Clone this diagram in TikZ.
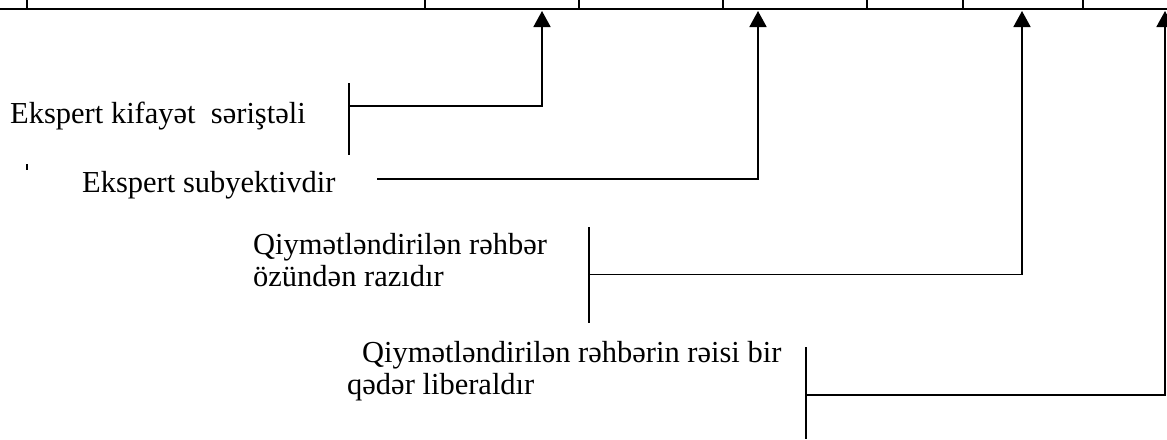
\documentclass[tikz,border=0pt]{standalone}
\usepackage{fontspec}
\setmainfont{Liberation Serif}
\usetikzlibrary{arrows.meta}

\begin{document}
\begin{tikzpicture}[
  x=1pt,y=-1pt,
  txt/.style={font=\fontsize{30.5}{32}\selectfont,inner sep=0pt,anchor=base west,align=left},
  bar/.style={line width=2.2pt},
  arr/.style={-{Triangle[width=17pt,length=16pt]},line width=1.8pt}
]
\useasboundingbox (0,0) rectangle (1167,439);
% bottom edge of the table
\draw[line width=2.5pt] (0,9) -- (1167,9);
\foreach \x in {27,425,579,723,867,963,1083}
  \draw[line width=1.6pt] (\x,0) -- (\x,9);
% arrow tips under the table
\coordinate (t1) at (542,11);
\coordinate (t2) at (758,11);
\coordinate (t3) at (1022,11);
\coordinate (t4) at (1165,11);
% labels (base = last line)
\node[txt] (competent) at (10,123) {Ekspert kifayət~ səriştəli};
\node[txt] (subjective) at (82,192) {Ekspert subyektivdir};
\node[txt] (satisfied) at (253,286) {Qiymətləndirilən rəhbər\\özündən razıdır};
\node[txt] (liberal) at (347,394) {\hspace*{15pt}Qiymətləndirilən rəhbərin rəisi bir\\qədər liberaldır};
\draw[line width=2pt] (27,164) -- (27,170);
% brackets
\coordinate (b1) at (349,106);
\coordinate (b2) at (377,179);
\coordinate (b3) at (589,274.5);
\coordinate (b4) at (806,395);
\draw[bar] (349,83) -- (349,155);
\draw[bar] (589,227) -- (589,323);
\draw[bar] (806,347) -- (806,439);
% connectors
\draw[arr] (b1) -| (t1);
\draw[arr] (b2) -| (t2);
\draw[arr] (b3) -| (t3);
\draw[arr] (b4) -| (t4);
\end{tikzpicture}
\end{document}
